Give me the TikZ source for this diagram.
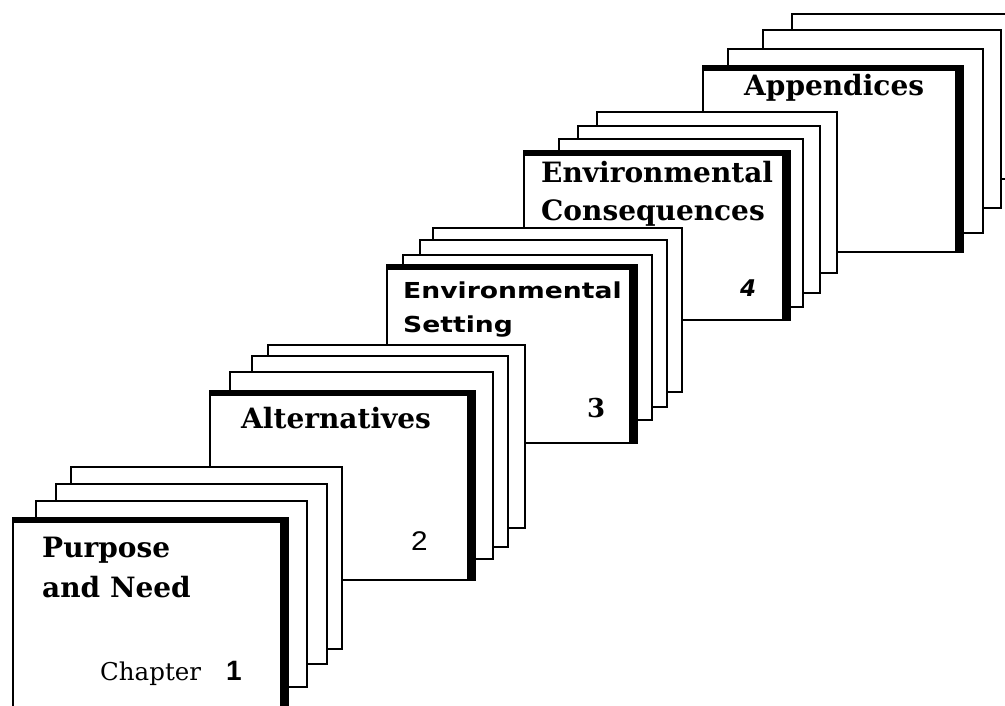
\documentclass[tikz,border=0pt]{standalone}
\usepackage{fontspec}
\usepackage{graphicx}
\newfontfamily\dser{DejaVu Serif}
\newfontfamily\dsans{DejaVu Sans}
\newfontfamily\lsans{Liberation Sans}
\tikzset{
  sheet/.style={draw=black, line width=1.8pt, fill=white},
  ttl/.style={inner sep=0pt, anchor=base west, font=\dser\bfseries\fontsize{28}{28}\selectfont},
  lbl/.style={inner sep=0pt, anchor=base west},
}
\newcommand\backpage[4]{\draw[sheet] (#1,#2) rectangle (#3,#4);}
\newcommand\frontpage[4]{\draw[sheet] (#1,#2) rectangle (#3,#4);
  \fill[black] (#1-0.9,#2-0.9) rectangle (#3,#2+5);
  \fill[black] (#3-8,#2-0.9) rectangle (#3+0.9,#4+0.9);}
\begin{document}
\begin{tikzpicture}[x=1pt,y=-1pt]
\useasboundingbox (0,0) rectangle (1005,705);
\fill[white] (0,0) rectangle (1005,705);
\clip (0,0) rectangle (1005,705);
% Group 5: Appendices
\backpage{792}{14}{1020}{179}
\backpage{763}{30}{1001}{208}
\backpage{728}{49}{983}{233}
\frontpage{703}{66}{963}{252}
\node[ttl] (app) at (744,95) {Appendices};
% Group 4
\backpage{597}{112}{837}{273}
\backpage{578}{126}{820}{293}
\backpage{559}{139}{803}{307}
\frontpage{524}{151}{790}{320}
\node[ttl] (env4) at (541,182) {Environmental};
\node[ttl] (cons) at (541,220) {Consequences};
\node[lbl, font=\dsans\bfseries\itshape\fontsize{23}{23}\selectfont] (n4) at (740,296) {4};
% Group 3
\backpage{433}{228}{682}{392}
\backpage{420}{240}{667}{407}
\backpage{403}{255}{652}{420}
\frontpage{387}{265}{637}{443}
\node[lbl, font=\dsans\bfseries\fontsize{22}{22}\selectfont] (env3) at (403,298) {\scalebox{1.21}[1]{Environmental}};
\node[lbl, font=\dsans\bfseries\fontsize{22}{22}\selectfont] (set3) at (403,332) {\scalebox{1.21}[1]{Setting}};
\node[lbl, font=\dser\bfseries\fontsize{26}{26}\selectfont] (n3) at (587,417) {3};
% Group 2
\backpage{268}{345}{525}{528}
\backpage{252}{356}{508}{547}
\backpage{230}{372}{493}{559}
\frontpage{210}{391}{475}{580}
\node[ttl] (alt) at (241,428) {Alternatives};
\node[lbl, font=\lsans\fontsize{27}{27}\selectfont, scale=1] (n2) at (411,550) {\scalebox{1.1}[1]{2}};
% Group 1
\backpage{71}{467}{342}{649}
\backpage{56}{484}{327}{664}
\backpage{36}{501}{307}{687}
\frontpage{13}{518}{288}{720}
\node[ttl] (pur) at (42,557) {Purpose};
\node[ttl] (need) at (42,597) {and Need};
\node[lbl, font=\dser\fontsize{24.5}{24.5}\selectfont] (chap) at (100,680) {Chapter};
\node[lbl, font=\lsans\bfseries\fontsize{28}{28}\selectfont] (n1) at (226,680) {1};
\end{tikzpicture}
\end{document}
